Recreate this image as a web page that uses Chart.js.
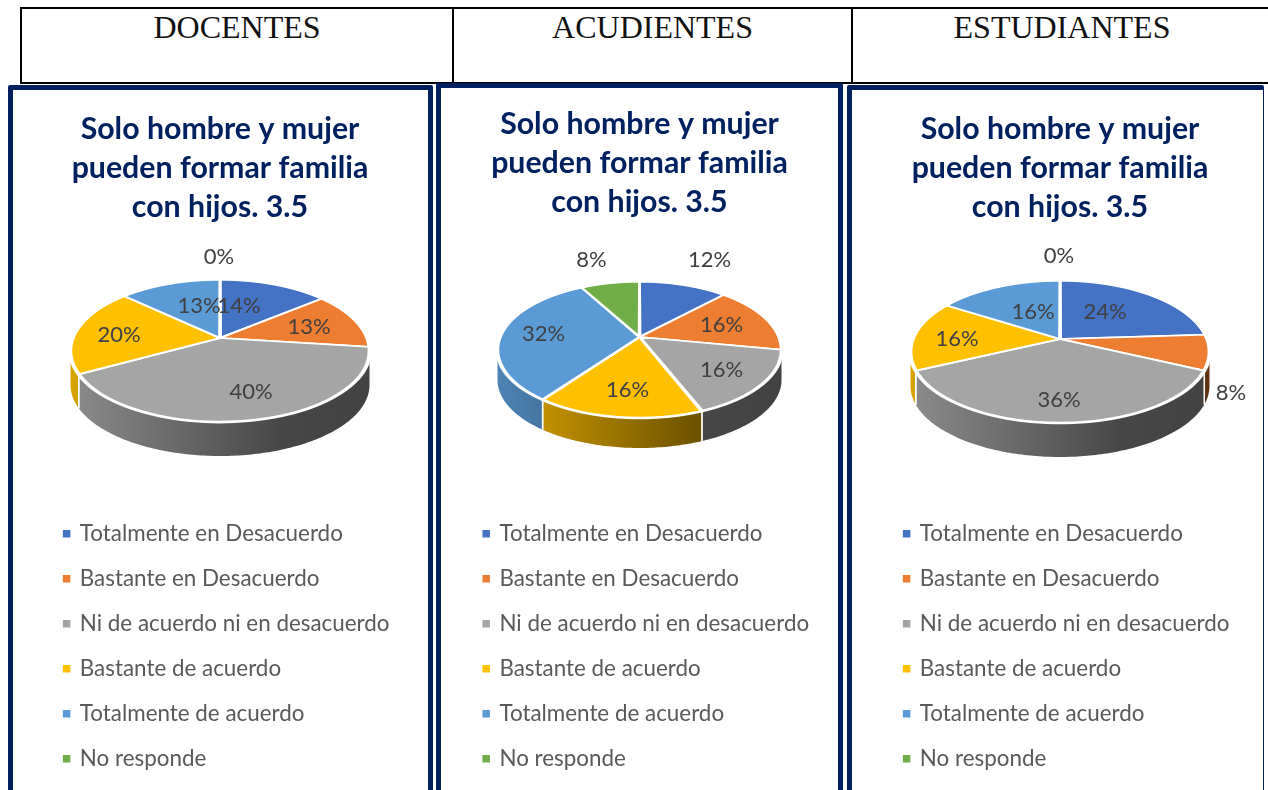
<!DOCTYPE html>
<html lang="es">
<head>
<meta charset="utf-8">
<title>Solo hombre y mujer pueden formar familia con hijos. 3.5</title>
<script src="https://cdn.jsdelivr.net/npm/chart.js@4"></script>
<style>
html,body{margin:0;padding:0;background:#fff;width:1268px;height:790px;overflow:hidden;position:relative}
.hline,.vline{position:absolute;background:#000}
.head{position:absolute;top:8px;font:32px "Liberation Serif",serif;color:#111;text-align:center;line-height:38px}
.frame{position:absolute;box-sizing:border-box;border:5px solid #002060;border-radius:2px;height:800px}
canvas{position:absolute;display:block}
</style>
</head>
<body>
<div class="hline" style="left:20px;top:7px;width:1248px;height:2px"></div>
<div class="hline" style="left:20px;top:82px;width:1248px;height:2px"></div>
<div class="vline" style="left:20px;top:7px;width:2px;height:77px"></div>
<div class="vline" style="left:452px;top:7px;width:2px;height:77px"></div>
<div class="vline" style="left:851px;top:7px;width:2px;height:77px"></div>
<div class="head" style="left:22px;width:430px">DOCENTES</div>
<div class="head" style="left:454px;width:397px">ACUDIENTES</div>
<div class="head" style="left:853px;width:418px">ESTUDIANTES</div>
<div class="frame" style="left:8px;top:85px;width:424.5px"></div>
<div class="frame" style="left:436px;top:83px;width:407px"></div>
<div class="frame" style="left:847px;top:85px;width:417px;border-right-width:1.5px"></div>
<canvas id="c1" width="414" height="700" style="left:13px;top:90px"></canvas>
<canvas id="c2" width="397" height="703" style="left:441px;top:87px"></canvas>
<canvas id="c3" width="416" height="700" style="left:852px;top:90px"></canvas>
<script>
const categories = ['Totalmente en Desacuerdo','Bastante en Desacuerdo','Ni de acuerdo ni en desacuerdo','Bastante de acuerdo','Totalmente de acuerdo','No responde'];
const docentes = [14,13,40,20,13,0];
const acudientes = [12,16,16,16,32,8];
const estudiantes = [24,8,36,16,16,0];
const titleLines = ['Solo hombre y mujer','pueden formar familia','con hijos. 3.5'];
const sliceColors = ['#4472C4','#ED7D31','#A5A5A5','#FFC000','#5B9BD5','#70AD47'];

// Layout / styling only (label offsets from the pie apex, px)
const labelOffsets1 = [[19,-32],[89,-11],[31,54],[-101,-3],[-21,-32],[-1,-81]];
const labelOffsets2 = [[70,-77],[82,-12],[82,33],[-12,53],[-96,-3],[-48,-77]];
const labelOffsets3 = [[45,-27],[171,54],[-1,61],[-103,0],[-27,-27],[-1,-83]];

const FONT = 'Lato, "Noto Sans", sans-serif';

function shade(hex,k){
  const n=parseInt(hex.slice(1),16);
  return 'rgb('+[(n>>16)&255,(n>>8)&255,n&255].map(v=>Math.round(v*k)).join(',')+')';
}

// Perspective view of the library's arc elements: a circle seen from above,
// nearer edge larger, so the apex sits above the centre of the outline ellipse.
const tilted = {
  id:'tilted',
  beforeDatasetDraw(chart,args,o){
    const ctx=chart.ctx, arcs=chart.getDatasetMeta(args.index).data.filter(a=>a.circumference>0);
    const W=chart.width, ay=o.apexY;
    const k=(o.front-o.back)/(o.front+o.back), B=o.front*(1-k), R=o.halfWidth*Math.sqrt(1-k*k);
    const cx=arcs[0].x, py=arcs[0].y, r=arcs[0].outerRadius;
    const project=(t)=>{
      const u=Math.cos(t), v=Math.sin(t), w=1-k*v;
      return [cx+R*u/w, ay+B*v/w];
    };
    const edge=Math.asin(k);
    arcs.forEach(a=>{
      const c=sliceColors[a.$context.index];
      const from=Math.max(a.startAngle,edge), to=Math.min(a.endAngle,Math.PI-edge);
      if(to<=from) return;
      const g=ctx.createLinearGradient(cx-o.halfWidth,0,cx+o.halfWidth,0);
      g.addColorStop(0,shade(c,.85)); g.addColorStop(.7,shade(c,.43)); g.addColorStop(1,shade(c,.4));
      const n=Math.max(4,Math.ceil((to-from)*60)), top=[];
      for(let i=0;i<=n;i++) top.push(project(from+(to-from)*i/n));
      ctx.save();
      ctx.beginPath();
      top.forEach((p,i)=>i?ctx.lineTo(p[0],p[1]):ctx.moveTo(p[0],p[1]));
      for(let i=n;i>=0;i--) ctx.lineTo(top[i][0],top[i][1]+o.depth);
      ctx.closePath();
      ctx.fillStyle=g; ctx.fill();
      ctx.strokeStyle='#fff'; ctx.lineWidth=1.5;
      ctx.beginPath();
      if(from===a.startAngle){ctx.moveTo(top[0][0],top[0][1]);ctx.lineTo(top[0][0],top[0][1]+o.depth);}
      if(to===a.endAngle){ctx.moveTo(top[n][0],top[n][1]);ctx.lineTo(top[n][0],top[n][1]+o.depth);}
      ctx.stroke();
      ctx.restore();
    });
    // top face, one pixel row at a time through the perspective
    const y0=Math.floor(ay-o.back-3), y1=Math.ceil(ay+o.front+3);
    for(let row=y0;row<y1;row++){
      const Y=row+.5-ay, w=1/(1+k*Y/B), v=(Y/B)*w;
      const sx=(R/r)/w, sy=(B/r)/(w*w);
      ctx.save();
      ctx.beginPath(); ctx.rect(0,row,W,1); ctx.clip();
      ctx.translate(cx,row+.5); ctx.scale(sx,sy); ctx.translate(-cx,-(py+r*v));
      arcs.forEach(a=>a.draw(ctx));
      ctx.restore();
    }
    return false;
  },
  afterDatasetsDraw(chart,args,o){
    const ctx=chart.ctx, meta=chart.getDatasetMeta(0), vals=chart.data.datasets[0].data;
    ctx.save();
    ctx.font='22px '+FONT; ctx.fillStyle='#404040';
    ctx.textAlign='center'; ctx.textBaseline='middle';
    vals.forEach((v,i)=>{
      const off=o.labelOffsets[i];
      ctx.fillText(v+'%',meta.data[i].x+off[0],o.apexY+off[1]);
    });
    ctx.restore();
  }
};

function makeChart(id,values,cfg){
  return new Chart(document.getElementById(id),{
    type:'pie',
    data:{labels:categories,datasets:[{data:values,backgroundColor:sliceColors,borderColor:'#fff',borderWidth:2.5,radius:100}]},
    plugins:[tilted],
    options:{
      responsive:false,animation:false,radius:100,
      layout:{padding:{left:cfg.pad,right:cfg.pad,top:0,bottom:10}},
      plugins:{
        tooltip:{enabled:false},
        title:{display:true,text:titleLines,color:'#002060',
          font:{family:FONT,weight:'bold',size:30.3,lineHeight:39/30.3},
          padding:{top:cfg.titleTop,bottom:0}},
        legend:{display:true,position:'bottom',align:'start',fullSize:false,
          labels:{color:'#595959',font:{family:FONT,size:22.4},usePointStyle:true,pointStyle:'rect',boxWidth:4,boxHeight:10,padding:22.6}},
        tilted:{apexY:cfg.apexY,halfWidth:cfg.halfWidth,back:cfg.back,front:cfg.front,depth:cfg.depth,labelOffsets:cfg.labels}
      }
    }
  });
}
makeChart('c1',docentes,{pad:29,titleTop:20,apexY:248,halfWidth:149.5,back:58,front:84,depth:34,labels:labelOffsets1});
makeChart('c2',acudientes,{pad:20.6,titleTop:18,apexY:250,halfWidth:142,back:55,front:81,depth:30,labels:labelOffsets2});
makeChart('c3',estudiantes,{pad:30,titleTop:20,apexY:249,halfWidth:149.5,back:58,front:84,depth:34,labels:labelOffsets3});
</script>
</body>
</html>
